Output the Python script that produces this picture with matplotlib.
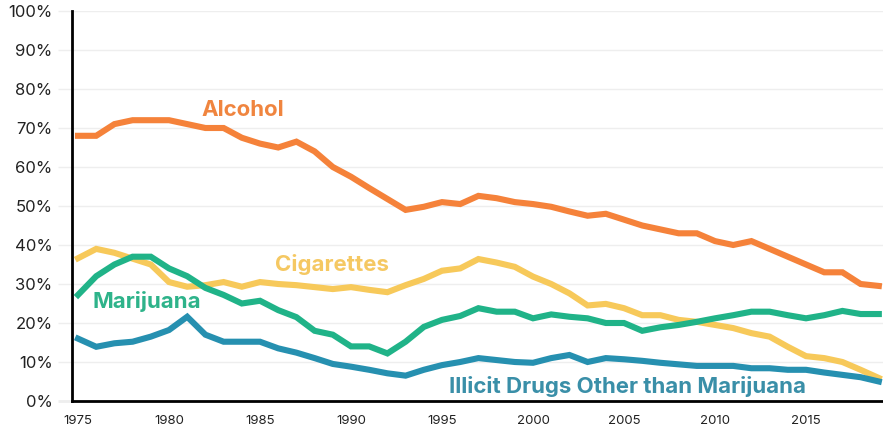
import matplotlib
matplotlib.use("Agg")
import matplotlib.pyplot as plt
import numpy as np

years = list(range(1975, 2020))

alcohol = [68, 68, 71, 72, 72, 72, 71, 70, 70, 67.5, 66, 65, 66.5, 64, 60,
           57.5, 54.6, 51.8, 49, 49.8, 51, 50.5, 52.6, 52, 51, 50.5, 49.8, 48.6, 47.5, 48,
           46.5, 45, 44, 43, 43, 41, 40, 41, 39, 37, 35, 33, 33, 30, 29.5]
cigarettes = [36.6, 39, 38, 36.5, 35, 30.5, 29.3, 29.7, 30.5, 29.3, 30.5, 30, 29.7, 29.2, 28.7,
              29.2, 28.5, 27.9, 29.7, 31.3, 33.4, 34, 36.4, 35.5, 34.4, 31.9, 30, 27.6, 24.5, 24.9,
              23.8, 22, 22, 20.8, 20.3, 19.5, 18.7, 17.4, 16.5, 13.9, 11.5, 11, 10, 8, 5.9]
marijuana = [27.2, 32, 35, 37, 37, 34, 32, 29, 27.2, 25, 25.7, 23.3, 21.5, 18, 17,
             14, 14, 12.2, 15.2, 19, 20.8, 21.8, 23.8, 22.9, 22.9, 21.2, 22.2, 21.6, 21.2, 20,
             20, 18, 18.9, 19.5, 20.3, 21.2, 22, 22.9, 22.9, 22, 21.2, 22, 23.1, 22.3, 22.3]
illicit = [16, 13.9, 14.8, 15.2, 16.5, 18.2, 21.6, 17, 15.2, 15.2, 15.2, 13.5, 12.4, 11, 9.5,
           8.8, 8, 7.1, 6.5, 8, 9.2, 10, 11, 10.5, 10, 9.8, 11, 11.8, 10, 11,
           10.7, 10.3, 9.8, 9.4, 9, 9, 9, 8.4, 8.4, 8, 8, 7.3, 6.7, 6.1, 5]

series = [
    ("Alcohol", alcohol, "#F5823A", (1981.76, 74.6)),
    ("Cigarettes", cigarettes, "#F7C95A", (1985.8, 34.9)),
    ("Marijuana", marijuana, "#20B388", (1975.77, 25.4)),
    ("Illicit Drugs Other than Marijuana", illicit, "#2690B0", (1995.4, 3.6)),
]
label_colors = ["#F0853F", "#F5C862", "#2EB38A", "#3A8FA8"]

plt.rcParams['font.family'] = ['Inter', 'DejaVu Sans']

fig = plt.figure(figsize=(8.83, 4.36), dpi=100)
ax = fig.add_axes([72 / 883, 1 - 401 / 436, 1 - 72 / 883, (401 - 11) / 436])

for (name, vals, color, pos), lc in zip(series, label_colors):
    ax.plot(years, vals, color=color, lw=4.4, solid_joinstyle='miter', zorder=3)
    ax.text(pos[0], pos[1], name, color=lc, fontsize=16, fontweight='bold',
            ha='left', va='center', zorder=4)

ax.set_xlim(1974.67, 2019.23)
ax.set_ylim(0, 100)
ax.set_yticks(range(0, 101, 10))
ax.set_yticklabels([f"{v}%" for v in range(0, 101, 10)], fontsize=12, color='#222222')
ax.set_xticks(range(1975, 2020, 5))
ax.set_xticklabels([str(y) for y in range(1975, 2020, 5)], fontsize=9.5, color='#222222')
ax.grid(axis='y', color='#eeeeee', lw=1, zorder=0)
ax.tick_params(axis='y', length=10, width=1, color='#eeeeee', pad=4)
ax.tick_params(axis='x', length=0, pad=10)
ax.get_yticklines()[0].set_color('black')
ax.get_yticklines()[0].set_markeredgewidth(2)

for s in ['top', 'right']:
    ax.spines[s].set_visible(False)
ax.spines['left'].set_linewidth(2)
ax.spines['bottom'].set_linewidth(2)
ax.spines['left'].set_color('black')
ax.spines['bottom'].set_color('black')

fig.savefig("out.png", dpi=100)
